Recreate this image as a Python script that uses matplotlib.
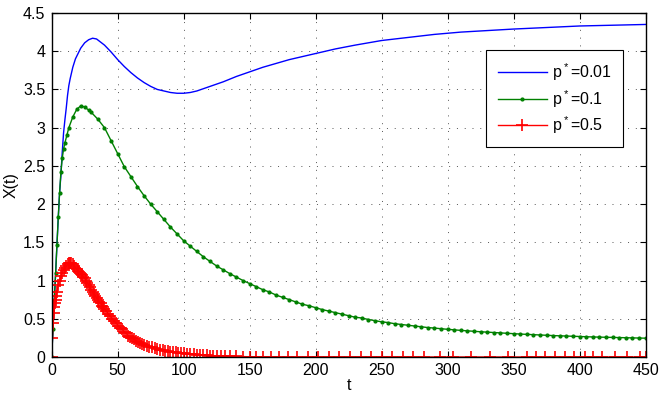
import matplotlib
matplotlib.use("Agg")
import matplotlib.pyplot as plt

plt.rcParams["font.family"] = ["Liberation Sans", "DejaVu Sans"]
plt.rcParams["mathtext.default"] = "regular"

# p* = 0.01 (plain line)
blue_t = [0, 1, 2, 3, 4, 5, 6, 7, 8, 9, 10, 11, 12, 13, 14, 16, 18, 20, 22, 25, 28,
          31, 34, 37, 40, 45, 50, 55, 60, 65, 70, 75, 80, 85, 90, 95, 100, 105, 110,
          115, 120, 130, 140, 150, 160, 170, 180, 190, 200, 215, 230, 250, 270, 290,
          310, 330, 350, 375, 400, 425, 450]
blue_x = [0, 0.37, 0.74, 1.1, 1.47, 1.83, 2.15, 2.38, 2.68, 2.93, 3.1, 3.25, 3.42,
          3.55, 3.64, 3.79, 3.9, 3.97, 4.04, 4.11, 4.15, 4.17, 4.16, 4.12, 4.08,
          3.99, 3.89, 3.8, 3.72, 3.65, 3.59, 3.54, 3.5, 3.48, 3.46, 3.45, 3.45, 3.46,
          3.48, 3.51, 3.54, 3.6, 3.67, 3.73, 3.79, 3.84, 3.89, 3.93, 3.97, 4.03, 4.08,
          4.14, 4.18, 4.22, 4.25, 4.27, 4.29, 4.31, 4.33, 4.34, 4.35]

# p* = 0.1 (dots)
green_t = [0, 1, 2, 3, 4, 5, 6, 7, 8, 9, 10, 11.5, 13, 16, 19, 22, 25, 28, 30, 35,
           40, 45, 50, 55, 60, 65, 70, 75, 80, 85, 90, 95, 100, 105, 110, 115, 120,
           125, 130, 135, 140, 145, 150, 155, 160, 165, 170, 175, 180, 185, 190, 195,
           200, 205, 210, 215, 220, 225, 230, 235, 240, 245, 250, 255, 260, 265, 270,
           275, 280, 285, 290, 295, 300, 305, 310, 315, 320, 325, 330, 335, 340, 345,
           350, 355, 360, 365, 370, 375, 380, 385, 390, 395, 400, 405, 410, 415, 420,
           425, 430, 435, 440, 445, 450]
green_x = [0, 0.37, 0.74, 1.1, 1.47, 1.83, 2.15, 2.42, 2.6, 2.72, 2.8, 2.9, 3.0,
           3.14, 3.24, 3.285, 3.27, 3.23, 3.2, 3.11, 3.0, 2.83, 2.66, 2.49, 2.36,
           2.23, 2.11, 2.0, 1.9, 1.8, 1.7, 1.61, 1.52, 1.45, 1.38, 1.31, 1.25, 1.19,
           1.14, 1.09, 1.045, 1.0, 0.96, 0.92, 0.88, 0.85, 0.81, 0.78, 0.75, 0.72,
           0.69, 0.67, 0.645, 0.62, 0.6, 0.58, 0.56, 0.54, 0.52, 0.51, 0.49, 0.475,
           0.46, 0.45, 0.435, 0.425, 0.415, 0.405, 0.395, 0.385, 0.378, 0.37, 0.362,
           0.355, 0.348, 0.342, 0.336, 0.33, 0.325, 0.32, 0.315, 0.31, 0.305, 0.3,
           0.296, 0.292, 0.288, 0.284, 0.28, 0.277, 0.274, 0.271, 0.268, 0.265, 0.262,
           0.26, 0.258, 0.256, 0.254, 0.252, 0.25, 0.248, 0.246]

# p* = 0.5 (plus markers)
red_t = [0, 0.5, 1, 1.5, 2, 2.5, 3, 3.5, 4, 5, 6, 7, 8, 9, 10, 11, 12, 13, 14, 15,
         16, 17, 18, 19, 20, 21, 22, 23, 24, 25, 26, 27, 28, 29, 30, 31, 32, 33, 34,
         35, 36, 37, 38, 39, 40, 41.5, 43, 44.5, 46, 47.5, 49, 50.5, 52, 53.5, 55,
         56.5, 58, 59.5, 61, 62.5, 64, 65.5, 67, 68.5, 70, 72, 74, 76, 78, 80, 82, 84,
         86, 88, 90, 92, 94, 96, 98, 100, 102.5, 105, 107.5, 110, 112.5, 115, 117.5,
         120, 122.5, 125, 128, 131, 135, 140, 145, 150, 155, 160, 166, 172, 179, 186,
         194, 202, 210, 218, 226, 234, 242, 250, 258, 266, 274, 282, 294, 304, 318,
         332, 346, 360, 367, 374, 381, 389, 396, 404, 410, 417, 427, 436, 446, 450]
red_x = [0, 0.25, 0.45, 0.58, 0.65, 0.7, 0.75, 0.8, 0.85, 0.94, 1.0, 1.06, 1.1, 1.14,
         1.17, 1.19, 1.21, 1.225, 1.234, 1.23,
         1.21, 1.19, 1.17, 1.15, 1.13, 1.11, 1.09, 1.07, 1.05, 1.03, 1.0, 0.97, 0.94,
         0.91, 0.88, 0.85, 0.82, 0.8, 0.77,
         0.75, 0.72, 0.7, 0.67, 0.65, 0.63, 0.6, 0.56, 0.53, 0.5, 0.47, 0.44, 0.41,
         0.38, 0.36, 0.33,
         0.31, 0.28, 0.26, 0.245, 0.23, 0.21, 0.2, 0.185, 0.17, 0.16, 0.145, 0.135,
         0.125, 0.115, 0.105, 0.097, 0.09,
         0.083, 0.077, 0.071, 0.066, 0.061, 0.056, 0.051, 0.047, 0.042, 0.038, 0.034,
         0.03, 0.027, 0.024, 0.021,
         0.019, 0.017, 0.015, 0.013, 0.011, 0.009, 0.007, 0.005, 0.003, 0, 0, 0, 0,
         0, 0,
         0, 0, 0, 0, 0, 0, 0, 0, 0, 0, 0, 0, 0, 0, 0,
         0, 0, 0, 0, 0, 0, 0, 0, 0, 0, 0, 0, 0, 0, 0]

labels = ["p$^*$=0.01", "p$^*$=0.1", "p$^*$=0.5"]

fig = plt.figure(figsize=(6.6, 3.96), dpi=100)
ax = fig.add_axes([0.0783, 0.0985, 0.9, 0.8687])

ax.plot(blue_t, blue_x, color="#0000ff", lw=1.0, label=labels[0])
ax.plot(green_t, green_x, color="#008000", lw=1.0, marker=".", ms=4, label=labels[1])
ax.plot(red_t, red_x, color="#ff0000", lw=1.0, marker="+", ms=8, mew=1.2, label=labels[2])

ax.set_xlim(0, 450)
ax.set_ylim(0, 4.5)
ax.set_xticks(range(0, 451, 50))
ax.set_yticks([0, 0.5, 1, 1.5, 2, 2.5, 3, 3.5, 4, 4.5])
ax.set_yticklabels(["0", "0.5", "1", "1.5", "2", "2.5", "3", "3.5", "4", "4.5"])
ax.grid(True, linestyle=(0, (1, 7)), color="#555555", lw=0.7)
ax.tick_params(direction="in", top=True, right=True, length=4, labelsize=11.5,
               colors="black")
ax.tick_params(axis="x", pad=4)
ax.tick_params(axis="y", pad=4.5)
for s in ax.spines.values():
    s.set_linewidth(1.0)
ax.set_xlabel("t", fontsize=11.5, labelpad=0)
ax.set_ylabel("X(t)", fontsize=11.5, labelpad=3)

leg = ax.legend(loc="upper left", bbox_to_anchor=(0.732, 0.892), fontsize=11.5,
                numpoints=1, handlelength=3.1, labelspacing=0.3, fancybox=False,
                framealpha=1, edgecolor="black", borderpad=0.7, handletextpad=0.3,
                borderaxespad=0)
leg.get_frame().set_linewidth(0.8)

fig.savefig("out.png", dpi=100)
